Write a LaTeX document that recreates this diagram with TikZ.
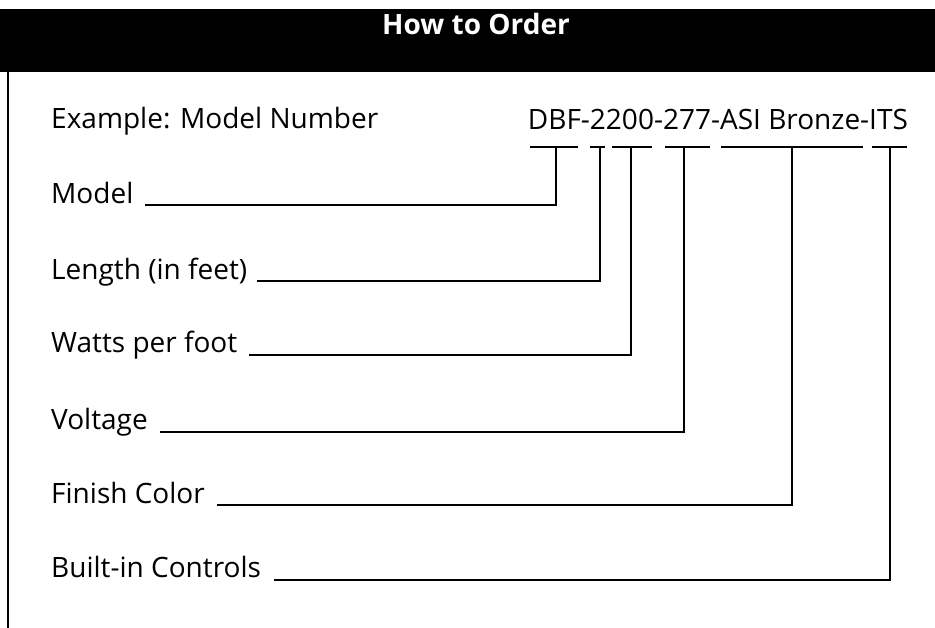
\documentclass[tikz,border=0pt]{standalone}
\usepackage{fontspec}
\setmainfont{Open Sans}
\usetikzlibrary{positioning}

\tikzset{
  lbl/.style = {anchor=base west, inner sep=0pt, font=\fontsize{28}{33}\selectfont},
  lead/.style = {line width=2.2pt},
  bar/.style = {line width=2.2pt},
}

\begin{document}
\begin{tikzpicture}[x=1pt, y=-1pt]
\useasboundingbox (0,0) rectangle (935,628);

% HEADER %%%%%%%%%%%%%%%%%%%%%%%%%%%%%%%%%%%%%%%%%%%%%%%%%%%%%%%%%%%%%%%%%

\fill[black] (0,9) rectangle (935,72);
\node[anchor=base, inner sep=0pt, text=white, font=\fontsize{28}{32}\selectfont\bfseries] (title) at (476,35) {How to Order};
\draw[line width=2pt] (7.5,72) -- (7.5,628);

% LABELS %%%%%%%%%%%%%%%%%%%%%%%%%%%%%%%%%%%%%%%%%%%%%%%%%%%%%%%%%%%%%%%%%

\node[lbl] (example) at (51,129) {Example: Model Number};
\node[lbl, anchor=base east] (code) at (908,130) {DBF-2200-277-ASI Bronze-ITS};

\node[lbl] (model) at (51,204) {Model};
\node[lbl] (length) at (51,280) {Length (in feet)};
\node[lbl] (watts) at (51,353) {Watts per foot};
\node[lbl] (volt) at (51,429) {Voltage};
\node[lbl] (finish) at (51,503) {Finish Color};
\node[lbl] (ctrl) at (51,577) {Built-in Controls};

% BARS %%%%%%%%%%%%%%%%%%%%%%%%%%%%%%%%%%%%%%%%%%%%%%%%%%%%%%%%%%%%%%%%%%%

\draw[bar] (530,147) -- (578,147);
\draw[bar] (590,147) -- (605,147);
\draw[bar] (612,147) -- (652,147);
\draw[bar] (665,147) -- (710,147);
\draw[bar] (721,147) -- (863,147);
\draw[bar] (872,147) -- (907,147);

\coordinate (b1) at (556,147);
\coordinate (b2) at (600,147);
\coordinate (b3) at (631,147);
\coordinate (b4) at (684,147);
\coordinate (b5) at (792,147);
\coordinate (b6) at (890,147);

% LEADERS %%%%%%%%%%%%%%%%%%%%%%%%%%%%%%%%%%%%%%%%%%%%%%%%%%%%%%%%%%%%%%%%

\draw[lead] (b1) |- ([xshift=11pt, yshift=-1pt]model.base east);
\draw[lead] (b2) |- ([xshift=10pt, yshift=-1pt]length.base east);
\draw[lead] (b3) |- ([xshift=11pt, yshift=-2pt]watts.base east);
\draw[lead] (b4) |- ([xshift=12pt, yshift=-3pt]volt.base east);
\draw[lead] (b5) |- ([xshift=12pt, yshift=-2pt]finish.base east);
\draw[lead] (b6) |- ([xshift=13pt, yshift=-3pt]ctrl.base east);

\end{tikzpicture}
\end{document}
